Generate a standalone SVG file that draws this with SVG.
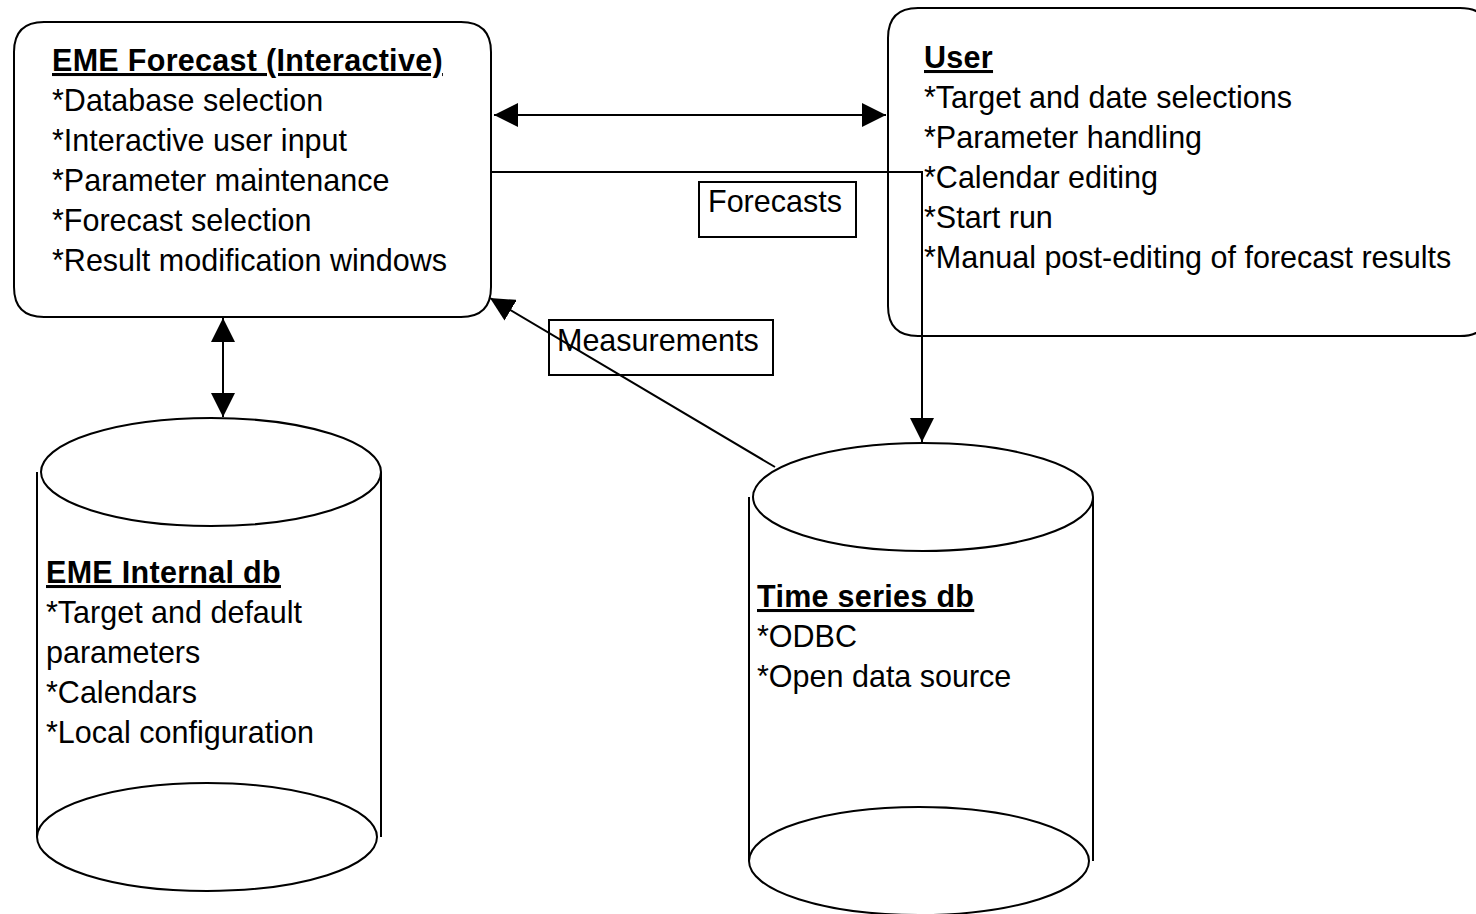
<svg xmlns="http://www.w3.org/2000/svg" width="1476" height="914" viewBox="0 0 1476 914">
<style>
  .shape { fill: #fff; stroke: #000; stroke-width: 2; }
  .lbl { fill: none; stroke: #000; stroke-width: 2; }
  .conn { fill: none; stroke: #000; stroke-width: 2; }
  text { font-family: "Liberation Sans", Arial, sans-serif; font-size: 30.5px; fill: #000; }
  .title { font-weight: bold; text-decoration: underline; letter-spacing: 0.3px; }
</style>
<defs>
  <marker id="ah" viewBox="0 0 24 24" refX="24" refY="12" markerWidth="24" markerHeight="24" markerUnits="userSpaceOnUse" orient="auto-start-reverse">
    <path d="M0,0 L24,12 L0,24 Z" fill="#000"/>
  </marker>
</defs>
<rect width="1476" height="914" fill="#fff"/>

<g id="eme-forecast">
  <path class="shape" d="M44,22 L461,22 Q491,22 491,52 L491,287 Q491,317 461,317 L44,317 Q14,317 14,287 L14,52 Q14,22 44,22 Z"/>
  <text x="52" y="71" class="title">EME Forecast (Interactive)</text>
  <text x="52" y="111">*Database selection</text>
  <text x="52" y="151">*Interactive user input</text>
  <text x="52" y="191">*Parameter maintenance</text>
  <text x="52" y="231">*Forecast selection</text>
  <text x="52" y="271">*Result modification windows</text>
</g>

<g id="user">
  <path class="shape" d="M918,8 L1460,8 Q1490,8 1490,38 L1490,306 Q1490,336 1460,336 L918,336 Q888,336 888,306 L888,38 Q888,8 918,8 Z"/>
  <text x="924" y="68" class="title">User</text>
  <text x="924" y="108">*Target and date selections</text>
  <text x="924" y="148">*Parameter handling</text>
  <text x="924" y="188">*Calendar editing</text>
  <text x="924" y="228">*Start run</text>
  <text x="924" y="268">*Manual post-editing of forecast results</text>
</g>

<g id="eme-internal-db">
  <rect x="37" y="472" width="344" height="365" fill="#fff"/>
  <line class="conn" x1="37" y1="472" x2="37" y2="837"/>
  <line class="conn" x1="381" y1="472" x2="381" y2="837"/>
  <ellipse class="shape" cx="207" cy="837" rx="170" ry="54"/>
  <ellipse class="shape" cx="211" cy="472" rx="170" ry="54"/>
  <text x="46" y="583" class="title">EME Internal db</text>
  <text x="46" y="623">*Target and default</text>
  <text x="46" y="663">parameters</text>
  <text x="46" y="703">*Calendars</text>
  <text x="46" y="743">*Local configuration</text>
</g>

<g id="time-series-db">
  <rect x="749" y="497" width="344" height="364" fill="#fff"/>
  <line class="conn" x1="749" y1="497" x2="749" y2="861"/>
  <line class="conn" x1="1093" y1="497" x2="1093" y2="861"/>
  <ellipse class="shape" cx="919" cy="861" rx="170" ry="54"/>
  <ellipse class="shape" cx="923" cy="497" rx="170" ry="54"/>
  <text x="757" y="607" class="title">Time series db</text>
  <text x="757" y="647">*ODBC</text>
  <text x="757" y="687">*Open data source</text>
</g>

<g id="label-forecasts">
  <rect class="lbl" x="699" y="182" width="157" height="55"/>
  <text x="708" y="212">Forecasts</text>
</g>

<g id="label-measurements">
  <rect class="lbl" x="549" y="320" width="224" height="55"/>
  <text x="557" y="351">Measurements</text>
</g>

<g id="connectors">
  <line class="conn" x1="494" y1="115" x2="886" y2="115" marker-start="url(#ah)" marker-end="url(#ah)"/>
  <line class="conn" x1="223" y1="318" x2="223" y2="417" marker-start="url(#ah)" marker-end="url(#ah)"/>
  <polyline class="conn" points="491,172 922,172 922,442" marker-end="url(#ah)"/>
  <line class="conn" x1="775" y1="467" x2="490" y2="298" marker-end="url(#ah)"/>
</g>
</svg>
